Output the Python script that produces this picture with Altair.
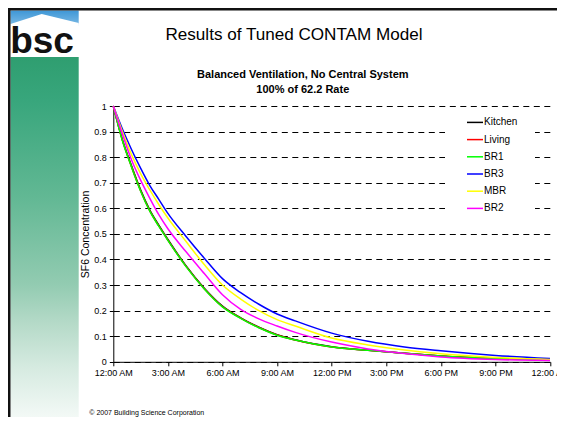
import altair as alt
import pandas as pd

# ---------------- data ----------------
HOURS = [0, 0.5, 1, 1.5, 2, 2.5, 3, 4, 5, 6, 7, 8, 9, 10, 12, 14, 16, 18, 21, 24]

SERIES = ["Kitchen", "Living", "BR1", "BR3", "MBR", "BR2"]
COLORS = ["#000000", "#FF0000", "#00FF00", "#0000FF", "#FFFF00", "#FF00FF"]

KITCHEN = [1.0, 0.868, 0.766, 0.672, 0.594, 0.534, 0.478, 0.375, 0.288, 0.218, 0.172, 0.135, 0.106, 0.086, 0.059, 0.045, 0.033, 0.023, 0.013, 0.007]
LIVING  = [1.0, 0.866, 0.763, 0.669, 0.591, 0.531, 0.476, 0.373, 0.286, 0.216, 0.171, 0.134, 0.105, 0.085, 0.058, 0.045, 0.033, 0.023, 0.013, 0.007]
BR1     = [1.0, 0.865, 0.762, 0.668, 0.590, 0.530, 0.475, 0.372, 0.285, 0.215, 0.170, 0.133, 0.104, 0.085, 0.058, 0.045, 0.033, 0.023, 0.013, 0.007]
BR3     = [1.0, 0.910, 0.830, 0.757, 0.690, 0.635, 0.580, 0.490, 0.405, 0.325, 0.270, 0.225, 0.187, 0.160, 0.112, 0.080, 0.058, 0.043, 0.025, 0.013]
MBR     = [1.0, 0.900, 0.810, 0.736, 0.673, 0.615, 0.562, 0.470, 0.380, 0.300, 0.245, 0.200, 0.165, 0.140, 0.093, 0.066, 0.046, 0.031, 0.017, 0.009]
BR2     = [1.0, 0.890, 0.790, 0.710, 0.640, 0.575, 0.520, 0.430, 0.345, 0.262, 0.205, 0.168, 0.140, 0.115, 0.077, 0.050, 0.032, 0.019, 0.009, 0.005]

X_TICKS = [0, 3, 6, 9, 12, 15, 18, 21, 24]
X_TICK_LABELS = ["12:00 AM", "3:00 AM", "6:00 AM", "9:00 AM", "12:00 PM",
                 "3:00 PM", "6:00 PM", "9:00 PM", "12:00 AM"]
Y_TICKS = [0, 0.1, 0.2, 0.3, 0.4, 0.5, 0.6, 0.7, 0.8, 0.9, 1.0]

SLIDE_TITLE = "Results of Tuned CONTAM Model"
CHART_TITLE_1 = "Balanced Ventilation, No Central System"
CHART_TITLE_2 = "100% of 62.2 Rate"
Y_TITLE = "SF6 Concentration"
COPYRIGHT = "\u00a9 2007 Building Science Corporation"
LOGO = "bsc"

rows = []
for name, vals in zip(SERIES, [KITCHEN, LIVING, BR1, BR3, MBR, BR2]):
    for h, v in zip(HOURS, vals):
        rows.append({"hour": h, "conc": v, "series": name})
df = pd.DataFrame(rows)
one = pd.DataFrame({"k": [0]})

FONT = "Liberation Sans, Arial, sans-serif"

label_expr = "[" + ",".join("'%s'" % s for s in X_TICK_LABELS) + "][round(datum.value/3)]"

PLOT_W = 436.7
PLOT_H = 255.8
PAD = {"left": 105.3, "top": 98, "right": 7, "bottom": 55.2}
BOTTOM = PLOT_H + PAD["bottom"]   # bottom edge of the drawing, relative to plot top
RIGHT = PLOT_W + PAD["right"]     # right edge of the drawing, relative to plot left


def box(x, x2, y, y2, color):
    return alt.Chart(one).mark_rect(color=color, opacity=1).encode(
        x=alt.value(x), x2=alt.value(x2), y=alt.value(y), y2=alt.value(y2))


def text(s, x, y, size, weight="normal", align="center", font=FONT, baseline="middle", color="black"):
    return alt.Chart(one).mark_text(text=s, font=font, fontSize=size, fontWeight=weight,
                                    align=align, baseline=baseline, color=color).encode(
        x=alt.value(x), y=alt.value(y))


green_grad = alt.Gradient(
    gradient="linear", x1=0, x2=0, y1=0, y2=1,
    stops=[alt.GradientStop(color="#2f9e70", offset=0),
           alt.GradientStop(color="#38a67c", offset=0.12),
           alt.GradientStop(color="#62b894", offset=0.39),
           alt.GradientStop(color="#92cbb1", offset=0.63),
           alt.GradientStop(color="#b5dac8", offset=0.74),
           alt.GradientStop(color="#d5eae0", offset=0.86),
           alt.GradientStop(color="#f3f9f6", offset=1.0)])

sky_grad = alt.Gradient(
    gradient="linear", x1=0, x2=0, y1=0, y2=1,
    stops=[alt.GradientStop(color="#3f97d6", offset=0),
           alt.GradientStop(color="#7dbbe6", offset=1)])

# left bar (slide decoration)
green_bar = box(-102.8, -34.6, -49, BOTTOM, green_grad)
sky = box(-102.8, -34.6, -95.5, -80, sky_grad)
logo_white = box(-102.8, -34.6, -82, -49, "white")
roof = alt.Chart(one).mark_point(
    shape="M-1,0.15L-0.085,-0.147L1,0.117L1,0.4L-1,0.4Z",
    filled=True, color="white", opacity=1, size=4651, strokeWidth=0).encode(
    x=alt.value(-68.7), y=alt.value(-87))
logo = text(LOGO, -71.3, -53.5, 37, weight="bold", baseline="alphabetic", color="#111111")
border_top = box(-105.3, RIGHT, -98, -95.6, "#111111")
border_left = box(-105.3, -102.8, -98, BOTTOM, "#111111")

legend_bg = box(331.7, 421.7, 6, 116, "white")

lines = alt.Chart(df).mark_line(strokeWidth=1.5, interpolate="monotone").encode(
    x=alt.X("hour:Q",
            scale=alt.Scale(domain=[0, 24], nice=False, zero=False),
            axis=alt.Axis(values=X_TICKS, labelExpr=label_expr, title=None, grid=False,
                          labelFont=FONT, labelFontSize=9, labelColor="black",
                          labelFlush=False, labelOverlap=False, labelPadding=3,
                          tickSize=4, tickColor="black", domainColor="black",
                          domainWidth=1, tickWidth=1)),
    y=alt.Y("conc:Q",
            scale=alt.Scale(domain=[0, 1], nice=False, zero=True),
            axis=alt.Axis(values=Y_TICKS, format="~g", title=Y_TITLE,
                          labelFont=FONT, labelFontSize=9, labelColor="black",
                          labelPadding=3, tickSize=4, tickColor="black",
                          domainColor="black", domainWidth=1,
                          grid=True, gridColor="black", gridDash=[6, 4.5],
                          gridWidth=1, gridOpacity=1,
                          titleFont=FONT, titleFontSize=10.5, titleFontWeight="normal",
                          titleColor="black", titleAngle=270, titleX=-28, titleY=128,
                          titleAlign="center", titleBaseline="middle")),
    color=alt.Color("series:N",
                    scale=alt.Scale(domain=SERIES, range=COLORS),
                    sort=SERIES,
                    legend=alt.Legend(orient="none", legendX=352.7, legendY=7.4,
                                      title=None, symbolType="stroke", symbolSize=256,
                                      symbolStrokeWidth=1.5, labelFont=FONT,
                                      labelFontSize=10, labelColor="black",
                                      labelOffset=0, rowPadding=3.2, padding=0)),
)

titles = [
    text(SLIDE_TITLE, 180.7, -71, 17.1),
    text(CHART_TITLE_1, 189.5, -31, 11, weight="bold"),
    text(CHART_TITLE_2, 189.5, -16, 11, weight="bold"),
    text(COPYRIGHT, -24, 307, 7, align="left"),
]

chart = alt.layer(
    green_bar, sky, logo_white, roof, logo, border_top, border_left,
    legend_bg, lines, *titles
).properties(
    width=PLOT_W, height=PLOT_H,
    padding=PAD,
    autosize=alt.AutoSizeParams(type="none"),
    background="white",
).configure_view(stroke=None)

chart.save("out.html", embed_options={"renderer": "svg", "actions": False})
